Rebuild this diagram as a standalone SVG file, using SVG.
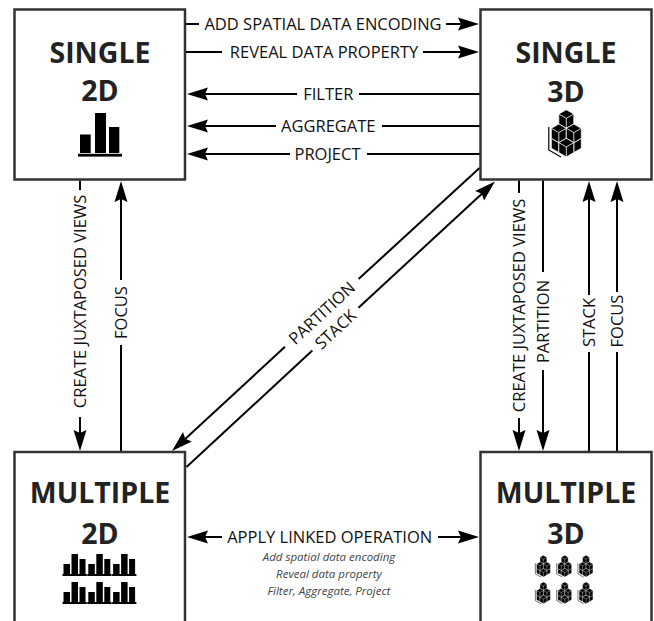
<svg xmlns="http://www.w3.org/2000/svg" xmlns:xlink="http://www.w3.org/1999/xlink" width="654" height="621" viewBox="0 0 654 621">
<style>
.box{fill:#fff;stroke:#333;stroke-width:2.5}
.title{font-family:"Open Sans","DejaVu Sans",sans-serif;font-weight:700;font-size:28.5px;fill:#222;text-anchor:middle}
.lbl{font-family:"Open Sans","DejaVu Sans",sans-serif;font-size:16.5px;fill:#111;text-anchor:middle}
.note{font-family:"Open Sans","DejaVu Sans",sans-serif;font-style:italic;font-size:11.5px;fill:#444;text-anchor:middle}
.ln{stroke:#000;stroke-width:2;fill:none}
.arr{marker-end:url(#ah)}
.cb{fill:#000;stroke:#fff;stroke-width:0.8;stroke-linejoin:round}
.cl{fill:none;stroke:#fff;stroke-width:0.8}
</style>
<defs>
<marker id="ah" markerUnits="userSpaceOnUse" markerWidth="24" markerHeight="16" viewBox="-10 -8 24 16" refX="0" refY="0" orient="auto">
<path d="M12,0 L-9,-6.5 L-6,0 L-9,6.5 Z" fill="#000"/>
</marker>
<g id="cubes">
<polyline points="0.8,18 0.8,41 13,48" fill="none" stroke="#000" stroke-width="1.2"/>
<path class="cb" d="M18.3,20.7 L25.8,25 L25.8,35 L18.3,39.3 L10.8,35 L10.8,25 Z"/>
<path class="cl" d="M10.8,25 L18.3,29.3 L25.8,25 M18.3,29.3 V39.3"/>
<path class="cb" d="M18.3,10.7 L25.8,15 L25.8,25 L18.3,29.3 L10.8,25 L10.8,15 Z"/>
<path class="cl" d="M10.8,15 L18.3,19.3 L25.8,15 M18.3,19.3 V29.3"/>
<path class="cb" d="M18.3,0.7 L25.8,5 L25.8,15 L18.3,19.3 L10.8,15 L10.8,5 Z"/>
<path class="cl" d="M10.8,5 L18.3,9.3 L25.8,5 M18.3,9.3 V19.3"/>
<path class="cb" d="M10.8,25 L18.3,29.3 L18.3,39.3 L10.8,43.6 L3.3,39.3 L3.3,29.3 Z"/>
<path class="cl" d="M3.3,29.3 L10.8,33.6 L18.3,29.3 M10.8,33.6 V43.6"/>
<path class="cb" d="M10.8,15 L18.3,19.3 L18.3,29.3 L10.8,33.6 L3.3,29.3 L3.3,19.3 Z"/>
<path class="cl" d="M3.3,19.3 L10.8,23.6 L18.3,19.3 M10.8,23.6 V33.6"/>
<path class="cb" d="M25.8,25 L33.3,29.3 L33.3,39.3 L25.8,43.6 L18.3,39.3 L18.3,29.3 Z"/>
<path class="cl" d="M18.3,29.3 L25.8,33.6 L33.3,29.3 M25.8,33.6 V43.6"/>
<path class="cb" d="M25.8,15 L33.3,19.3 L33.3,29.3 L25.8,33.6 L18.3,29.3 L18.3,19.3 Z"/>
<path class="cl" d="M18.3,19.3 L25.8,23.6 L33.3,19.3 M25.8,23.6 V33.6"/>
<path class="cb" d="M18.3,29.3 L25.8,33.6 L25.8,43.6 L18.3,47.9 L10.8,43.6 L10.8,33.6 Z"/>
<path class="cl" d="M10.8,33.6 L18.3,37.9 L25.8,33.6 M18.3,37.9 V47.9"/>
</g>
<g id="minibar" fill="#000">
<rect x="1" y="10" width="6.5" height="10"/>
<rect x="9" y="0" width="6.5" height="20"/>
<rect x="17" y="5" width="6" height="15"/>
<rect x="0" y="20" width="24.3" height="2"/>
</g>
</defs>
<rect width="654" height="621" fill="#fff"/>

<g id="connectors">
<line class="ln" x1="186" y1="24" x2="199" y2="24"/>
<text class="lbl" x="323" y="29.9">ADD SPATIAL DATA ENCODING</text>
<line class="ln arr" x1="446" y1="24" x2="467" y2="24"/>
<line class="ln" x1="186" y1="52" x2="222" y2="52"/>
<text class="lbl" x="324" y="57.9">REVEAL DATA PROPERTY</text>
<line class="ln arr" x1="423" y1="52" x2="467" y2="52"/>
<line class="ln arr" x1="297" y1="94" x2="199" y2="94"/>
<text class="lbl" x="328.3" y="99.9">FILTER</text>
<line class="ln" x1="359" y1="94" x2="480" y2="94"/>
<line class="ln arr" x1="276" y1="126" x2="199" y2="126"/>
<text class="lbl" x="328.3" y="131.9">AGGREGATE</text>
<line class="ln" x1="382" y1="126" x2="480" y2="126"/>
<line class="ln arr" x1="290" y1="154" x2="199" y2="154"/>
<text class="lbl" x="327.5" y="159.9">PROJECT</text>
<line class="ln" x1="367" y1="154" x2="480" y2="154"/>
<line class="ln arr" x1="222" y1="537" x2="199" y2="537"/>
<text class="lbl" x="329.7" y="542.9">APPLY LINKED OPERATION</text>
<line class="ln arr" x1="438" y1="537" x2="467" y2="537"/>
<line class="ln" x1="80" y1="180.5" x2="80" y2="190"/>
<text class="lbl" transform="translate(80,301.5) rotate(-90)" x="0" y="5.9">CREATE JUXTAPOSED VIEWS</text>
<line class="ln arr" x1="80" y1="417" x2="80" y2="439"/>
<line class="ln arr" x1="121" y1="280" x2="121" y2="193"/>
<text class="lbl" transform="translate(121,312.5) rotate(-90)" x="0" y="5.9">FOCUS</text>
<line class="ln" x1="121" y1="345" x2="121" y2="452"/>
<line class="ln" x1="519" y1="180.5" x2="519" y2="193"/>
<text class="lbl" transform="translate(519,305.5) rotate(-90)" x="0" y="5.9">CREATE JUXTAPOSED VIEWS</text>
<line class="ln arr" x1="519" y1="418" x2="519" y2="439"/>
<line class="ln" x1="543" y1="180.5" x2="543" y2="272"/>
<text class="lbl" transform="translate(543,321.5) rotate(-90)" x="0" y="5.9">PARTITION</text>
<line class="ln arr" x1="543" y1="370" x2="543" y2="439"/>
<line class="ln arr" x1="589" y1="295" x2="589" y2="193"/>
<text class="lbl" transform="translate(589,322.5) rotate(-90)" x="0" y="5.9">STACK</text>
<line class="ln" x1="589" y1="352" x2="589" y2="452"/>
<line class="ln arr" x1="617" y1="292" x2="617" y2="193"/>
<text class="lbl" transform="translate(617,321) rotate(-90)" x="0" y="5.9">FOCUS</text>
<line class="ln" x1="617" y1="352" x2="617" y2="452"/>
<line class="ln" x1="479.5" y1="168" x2="358.6" y2="279"/>
<text class="lbl" transform="translate(321.8,312.9) rotate(-42.67)" x="0" y="5.9">PARTITION</text>
<line class="ln arr" x1="285" y1="346.8" x2="180.8" y2="442.9"/>
<line class="ln" x1="186.5" y1="467" x2="312.3" y2="350.6"/>
<text class="lbl" transform="translate(335.4,329.2) rotate(-42.88)" x="0" y="5.9">STACK</text>
<line class="ln arr" x1="358.5" y1="307.8" x2="486.2" y2="189.7"/>
<text class="note" x="329" y="560.5">Add spatial data encoding</text>
<text class="note" x="329" y="577.5">Reveal data property</text>
<text class="note" x="329" y="594.5">Filter, Aggregate, Project</text>
</g>

<g id="single2d">
<rect class="box" x="14.5" y="9.5" width="170.5" height="170"/>
<text class="title" x="100" y="63">SINGLE</text>
<text class="title" x="100" y="101">2D</text>
<g fill="#000">
<rect x="80" y="134.5" width="10.7" height="18.5"/>
<rect x="95" y="113" width="11" height="40"/>
<rect x="109" y="127" width="10.3" height="26"/>
<rect x="78" y="153.8" width="44" height="2.8"/>
</g>
</g>

<g id="single3d">
<rect class="box" x="480.5" y="9.5" width="171" height="170"/>
<text class="title" x="566" y="63">SINGLE</text>
<text class="title" x="566" y="101.5">3D</text>
<use xlink:href="#cubes" href="#cubes" transform="translate(548,109)"/>
</g>

<g id="multiple2d">
<rect class="box" x="14.5" y="452" width="170.5" height="172"/>
<text class="title" x="100" y="503">MULTIPLE</text>
<text class="title" x="100" y="544">2D</text>
<use href="#minibar" xlink:href="#minibar" x="62.5" y="554"/>
<use href="#minibar" xlink:href="#minibar" x="87.3" y="554"/>
<use href="#minibar" xlink:href="#minibar" x="112.1" y="554"/>
<use href="#minibar" xlink:href="#minibar" x="62.5" y="582"/>
<use href="#minibar" xlink:href="#minibar" x="87.3" y="582"/>
<use href="#minibar" xlink:href="#minibar" x="112.1" y="582"/>
</g>

<g id="multiple3d">
<rect class="box" x="480.5" y="452" width="171" height="172"/>
<text class="title" x="566" y="503">MULTIPLE</text>
<text class="title" x="566" y="544">3D</text>
<use href="#cubes" xlink:href="#cubes" transform="translate(535,555) scale(0.46)"/>
<use href="#cubes" xlink:href="#cubes" transform="translate(556.3,555) scale(0.46)"/>
<use href="#cubes" xlink:href="#cubes" transform="translate(577.6,555) scale(0.46)"/>
<use href="#cubes" xlink:href="#cubes" transform="translate(535,581.7) scale(0.46)"/>
<use href="#cubes" xlink:href="#cubes" transform="translate(556.3,581.7) scale(0.46)"/>
<use href="#cubes" xlink:href="#cubes" transform="translate(577.6,581.7) scale(0.46)"/>
</g>
</svg>
